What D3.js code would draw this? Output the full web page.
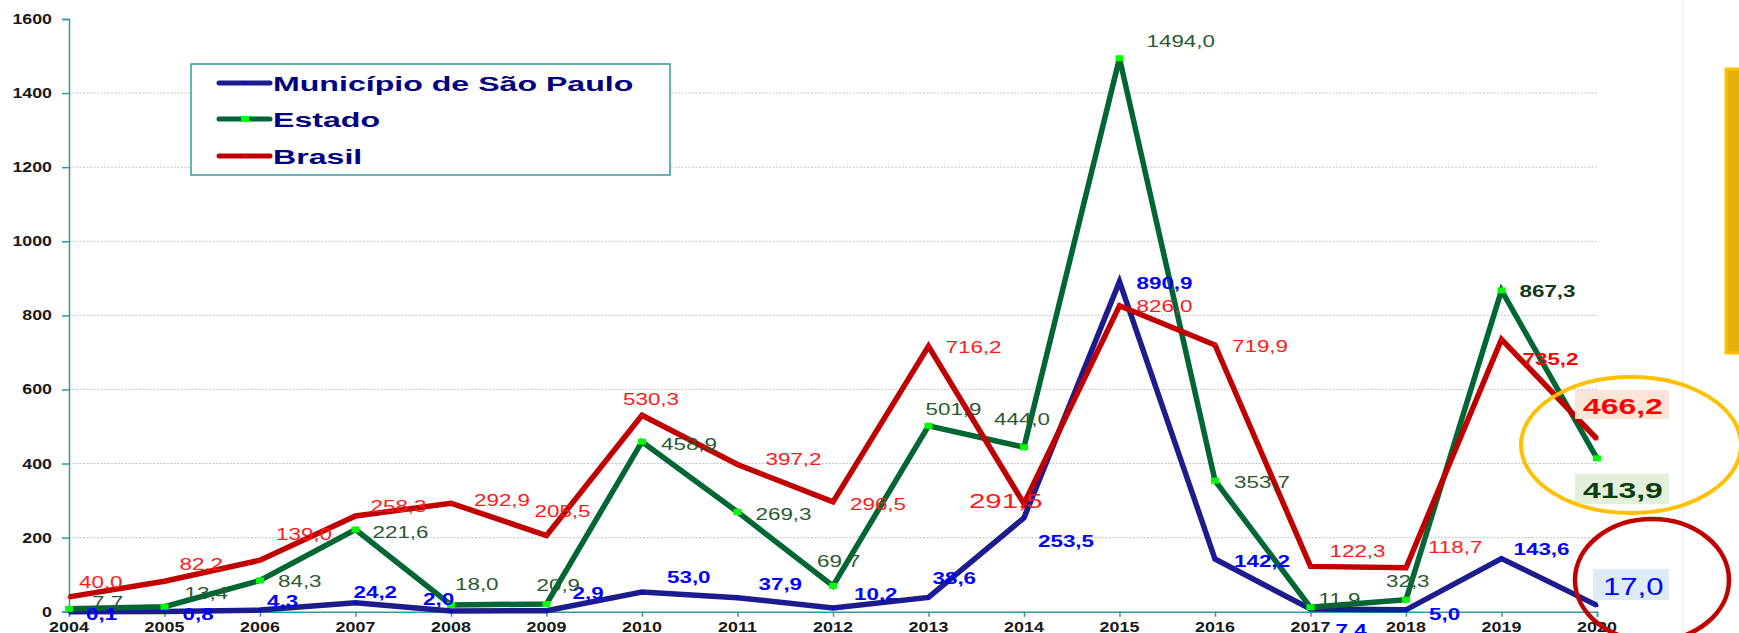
<!DOCTYPE html>
<html>
<head>
<meta charset="utf-8">
<script src="https://cdn.jsdelivr.net/npm/d3@7"></script>
<style>
  body { margin: 0; background: #fff; }
  svg { display: block; font-family: "Liberation Sans", Arial, sans-serif; }
</style>
</head>
<body>
<div id="chart"></div>
<script>
// --- data ---
const years = ["2004", "2005", "2006", "2007", "2008", "2009", "2010", "2011", "2012",
               "2013", "2014", "2015", "2016", "2017", "2018", "2019", "2020"];
const municipio = [0.1, 0.8, 4.3, 24.2, 2.0, 2.9, 53.0, 37.9, 10.2, 38.6, 253.5, 890.9, 142.2, 7.4, 5.0, 143.6, 17.0];
const estado = [7.7, 13.4, 84.3, 221.6, 18.0, 20.9, 458.9, 269.3, 69.7, 501.9, 444.0, 1494.0, 353.7, 11.9, 32.3, 867.3, 413.9];
const brasil = [40.0, 82.2, 139.0, 258.3, 292.9, 205.5, 530.3, 397.2, 296.5, 716.2, 291.5, 826.0, 719.9, 122.3, 118.7, 735.2, 466.2];
const yTicks = [0, 200, 400, 600, 800, 1000, 1200, 1400, 1600];
const seriesNames = ["Município de São Paulo", "Estado", "Brasil"];

// label offsets from each point (left edge, baseline), last point is boxed separately
const municipioLabelOff = [[17, 8], [18, 9], [7, -3], [-2, -5], [-28, -6], [26, -12], [25, -9], [21, -8],
  [21, -8], [4, -13], [14, 29], [17, 7], [19, 8], [25, 27], [23, 10], [12, -4]];
const estadoLabelOff = [[23, -1], [20, -8], [18, 7], [17, 8], [4, -15], [-10, -13], [19, 8], [18, 8],
  [-16, -19], [-3, -11], [-30, -22], [27, -11], [19, 7], [8, -2], [-20, -13], [18, 7]];
const brasilLabelOff = [[10, -9], [15, -11], [16, -20], [15, -4], [23, 3], [-12, -19], [-19, -10], [28, 0],
  [17, 8], [17, 7], [-55, 4], [17, 6], [17, 7], [19, -9], [22, -15], [21, 26]];

const W = 1739, H = 633;
const svg = d3.select("#chart").append("svg").attr("width", W).attr("height", H);

const x = d3.scalePoint().domain(years).range([69, 1597]);
const y = d3.scaleLinear().domain([0, 1600]).range([611.7, 19]);
const fmt = v => d3.format(".1f")(v).replace(".", ",");

const axisColor = "#339999";

// faint right border line + yellow block
svg.append("line").attr("x1", 1683).attr("x2", 1683).attr("y1", 0).attr("y2", H)
  .attr("stroke", "#f0f0f0").attr("stroke-width", 1.5);
svg.append("rect").attr("x", 1726).attr("y", 69).attr("width", 20).attr("height", 284)
  .attr("fill", "#e8b00a").attr("stroke", "#ffc000").attr("stroke-width", 3);

// gridlines
svg.append("g").selectAll("line").data(yTicks.filter(t => t > 0 && t < 1600)).join("line")
  .attr("x1", x("2004")).attr("x2", x("2020"))
  .attr("y1", d => y(d)).attr("y2", d => y(d))
  .attr("stroke", "#c4c4c4").attr("stroke-width", 1).attr("stroke-dasharray", "2,1.5");

// y axis
const yAxis = svg.append("g").attr("transform", `translate(${x("2004")},0)`)
  .call(d3.axisLeft(y).tickValues(yTicks).tickSize(7).tickFormat(""));
yAxis.selectAll("path, line").attr("stroke", axisColor).attr("stroke-width", 1.5);
svg.append("g").selectAll("text").data(yTicks).join("text")
  .attr("transform", d => `translate(52,${y(d) + 5}) scale(1.27,1)`)
  .attr("text-anchor", "end").attr("font-size", 14).attr("font-weight", "bold")
  .attr("fill", "#1a1a1a").text(d => d);

// x axis
const xAxis = svg.append("g").attr("transform", `translate(0,${y(0)})`)
  .call(d3.axisBottom(x).tickSize(5).tickFormat(""));
xAxis.selectAll("path, line").attr("stroke", axisColor).attr("stroke-width", 1.5);
svg.append("g").selectAll("text").data(years).join("text")
  .attr("transform", d => `translate(${x(d)},632) scale(1.28,1)`)
  .attr("text-anchor", "middle").attr("font-size", 14).attr("font-weight", "bold")
  .attr("fill", "#1a1a1a").text(d => d);

// lines
const line = d3.line().x((d, i) => x(years[i])).y(d => y(d));
const series = [
  { values: municipio, color: "#1c1c8c", dot: "#0000ff" },
  { values: estado, color: "#006633", dot: null },
  { values: brasil, color: "#c00000", dot: "#ff0000" }
];
series.forEach(s => {
  svg.append("path").datum(s.values).attr("d", line)
    .attr("fill", "none").attr("stroke", s.color).attr("stroke-width", 5.5)
    .attr("stroke-linejoin", "miter").attr("stroke-linecap", "butt");
  if (s.dot) {
    svg.append("g").selectAll("circle").data(s.values).join("circle")
      .attr("cx", (d, i) => x(years[i])).attr("cy", d => y(d)).attr("r", 1.5).attr("fill", s.dot);
  }
});
// estado markers
svg.append("g").selectAll("rect").data(estado).join("rect")
  .attr("x", (d, i) => x(years[i]) - 4).attr("y", d => y(d) - 3)
  .attr("width", 8).attr("height", 6).attr("fill", "#00ff00");

// data labels
function addLabels(values, offs, style) {
  const g = svg.append("g");
  values.slice(0, -1).forEach((v, i) => {
    const st = style(i);
    g.append("text")
      .attr("transform", `translate(${x(years[i]) + offs[i][0]},${y(v) + offs[i][1]}) scale(1.4,1)`)
      .attr("font-size", st.size).attr("font-weight", st.weight).attr("fill", st.color)
      .text(fmt(v));
  });
}
addLabels(municipio, municipioLabelOff, () => ({ size: 16, weight: "bold", color: "#0000ff" }));
addLabels(estado, estadoLabelOff, i => i === 15
  ? { size: 16, weight: "bold", color: "#0f3a14" }
  : { size: 16, weight: "normal", color: "#2b5a32" });
addLabels(brasil, brasilLabelOff, i => i === 15
  ? { size: 16, weight: "bold", color: "#ff0000" }
  : { size: i === 10 ? 21 : 16, weight: "normal", color: "#ff1a1a" });

// boxed 2020 values
const last = years.length - 1;
const px = x(years[last]);
const boxes = [
  { v: brasil[last], bx: -22, by: 390, w: 94, h: 29, tx: -14, ty: 414, fill: "#fbe5d6", color: "#ff0000", size: 22, weight: "bold", sx: 1.45 },
  { v: estado[last], bx: -22, by: 474, w: 94, h: 30, tx: -14, ty: 498, fill: "#e2efda", color: "#0d3d0d", size: 22, weight: "bold", sx: 1.45 },
  { v: municipio[last], bx: -4, by: 569, w: 76, h: 31, tx: 6, ty: 595, fill: "#ddebf7", color: "#0000ff", size: 23, weight: "normal", sx: 1.35 }
];
boxes.forEach(b => {
  svg.append("rect").attr("x", px + b.bx).attr("y", b.by).attr("width", b.w).attr("height", b.h).attr("fill", b.fill);
  svg.append("text").attr("transform", `translate(${px + b.tx},${b.ty}) scale(${b.sx},1)`)
    .attr("font-size", b.size).attr("font-weight", b.weight).attr("fill", b.color).text(fmt(b.v));
});

// highlight ellipses
svg.append("ellipse").attr("cx", 1631).attr("cy", 445).attr("rx", 110).attr("ry", 68)
  .attr("fill", "none").attr("stroke", "#ffc000").attr("stroke-width", 4);
svg.append("ellipse").attr("cx", 1652).attr("cy", 580).attr("rx", 77).attr("ry", 61)
  .attr("fill", "none").attr("stroke", "#c00000").attr("stroke-width", 4.5);

// legend
const legend = svg.append("g");
legend.append("rect").attr("x", 191).attr("y", 64).attr("width", 479).attr("height", 111)
  .attr("fill", "#fff").attr("stroke", axisColor).attr("stroke-width", 1.5);
const legendY = [83, 119, 156];
series.forEach((s, i) => {
  legend.append("line").attr("x1", 219).attr("x2", 270).attr("y1", legendY[i]).attr("y2", legendY[i])
    .attr("stroke", s.color).attr("stroke-width", 5).attr("stroke-linecap", "round");
  if (i === 1) {
    legend.append("rect").attr("x", 241).attr("y", legendY[i] - 3).attr("width", 8).attr("height", 6).attr("fill", "#00ff00");
  } else {
    legend.append("circle").attr("cx", 245).attr("cy", legendY[i]).attr("r", 1.5).attr("fill", s.dot);
  }
  legend.append("text").attr("transform", `translate(273,${legendY[i] + 7.5}) scale(1.53,1)`)
    .attr("font-size", 21).attr("font-weight", "bold").attr("fill", "#000080").text(seriesNames[i]);
});
</script>
</body>
</html>
